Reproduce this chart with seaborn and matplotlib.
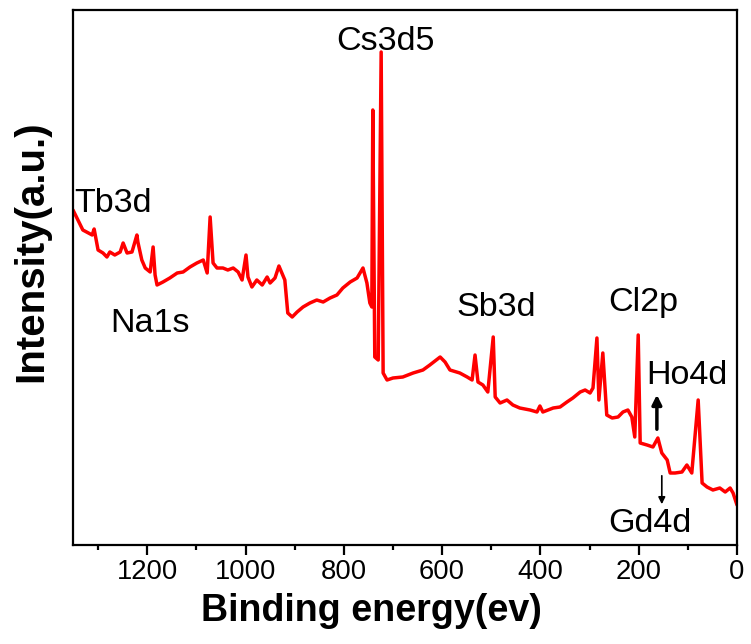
import numpy as np
import pandas as pd
import matplotlib
matplotlib.use("Agg")
import matplotlib.pyplot as plt
from matplotlib import font_manager
import seaborn as sns
from matplotlib.ticker import MultipleLocator

# Binding energy (eV) and intensity (arb. units)
energy = [1351, 1343, 1331, 1312, 1308, 1300, 1290, 1282, 1276, 1266, 1255, 1249,
          1241, 1231, 1221, 1219, 1211, 1204, 1194, 1188, 1184, 1180, 1168, 1154,
          1139, 1127, 1113, 1099, 1086, 1078, 1072, 1066, 1058, 1046, 1036, 1025,
          1015, 1007, 999, 995, 987, 977, 966, 956, 950, 940, 932, 926, 920, 914,
          905, 895, 883, 869, 855, 842, 828, 814, 802, 787, 773, 767, 761, 753,
          747, 743, 741, 737, 730, 724, 720, 712, 700, 680, 659, 639, 625, 604,
          594, 584, 564, 549, 539, 533, 527, 517, 507, 496, 492, 482, 468, 456,
          442, 421, 407, 401, 395, 374, 360, 346, 334, 319, 309, 299, 293, 285,
          281, 273, 265, 254, 242, 232, 222, 214, 208, 201, 197, 183, 171, 161,
          153, 142, 136, 126, 112, 102, 92, 79, 71, 61, 49, 35, 24, 14, 8, 0]
intensity = [335, 327, 315, 310, 316, 295, 292, 288, 293, 290, 293, 302,
             292, 293, 310, 303, 285, 277, 273, 298, 270, 260, 263, 267,
             272, 273, 278, 282, 285, 272, 328, 282, 277, 277, 275, 277,
             273, 265, 290, 268, 258, 265, 260, 268, 262, 267, 279, 272, 265, 232,
             228, 233, 238, 242, 245, 243, 247, 250, 257, 263, 267, 272, 277, 262,
             242, 238, 435, 188, 185, 493, 172, 165, 167, 168, 172, 175, 180, 188,
             183, 175, 172, 168, 165, 190, 163, 160, 153, 208, 148, 142, 145, 140,
             137, 135, 133, 139, 133, 137, 138, 143, 147, 153, 155, 152, 157, 207,
             145, 192, 130, 127, 128, 133, 135, 128, 108, 210, 102, 100, 98, 107,
             92, 85, 72, 72, 73, 80, 72, 145, 62, 58, 55, 57, 53, 57, 52, 40]

major_ticks = [0, 200, 400, 600, 800, 1000, 1200]

df = pd.DataFrame({"energy": energy, "intensity": intensity})

sns.set_style("ticks")
plt.rcParams["font.family"] = ["Liberation Sans", "DejaVu Sans"]
plt.rcParams["text.color"] = "black"
plt.rcParams["axes.labelcolor"] = "black"
plt.rcParams["xtick.color"] = "black"
plt.rcParams["ytick.color"] = "black"

names = {f.name for f in font_manager.fontManager.ttflist}
if "Liberation Sans Narrow" in names:
    narrow = ["Liberation Sans Narrow", "DejaVu Sans"]
    k = 1.0
else:
    narrow = ["Liberation Sans", "DejaVu Sans"]
    k = 0.82

fig = plt.figure(figsize=(7.51, 6.44), dpi=100)
ax = fig.add_axes([73 / 751, 1 - 545 / 644, (737 - 73) / 751, (545 - 10) / 644])

sns.lineplot(data=df, x="energy", y="intensity", ax=ax, color="#ff0000",
             linewidth=2.5, sort=False, estimator=None)

ax.set_xlim(1351, 0)
ax.set_ylim(0, 535)
ax.set_xticks(major_ticks)
ax.set_xticklabels([str(t) for t in major_ticks], family=narrow, fontsize=24 * k)
ax.xaxis.set_minor_locator(MultipleLocator(100))
ax.set_yticks([])
ax.tick_params(axis="x", which="major", direction="out", length=7, width=1.6,
               pad=3, color="black", labelcolor="black")
ax.tick_params(axis="x", which="minor", direction="out", length=3.5, width=1.6)
for s in ax.spines.values():
    s.set_visible(True)
    s.set_linewidth(1.6)
    s.set_color("black")

ax.set_xlabel("Binding energy(ev)", fontsize=33 * k, fontweight="bold",
              family=narrow)
ax.xaxis.set_label_coords(0.449, -0.089)
ax.set_ylabel("Intensity(a.u.)", fontsize=29, fontweight="bold")
ax.yaxis.set_label_coords(-0.035, 0.55)

fs = 30 * k
tk = dict(fontsize=fs, family=narrow, color="black", va="center")
ax.text(716, 503, "Cs3d5", ha="center", **tk)
ax.text(1349, 341, "Tb3d", ha="left", **tk)
ax.text(1194, 222, "Na1s", ha="center", **tk)
ax.text(490, 238, "Sb3d", ha="center", **tk)
ax.text(191, 242, "Cl2p", ha="center", **tk)
ax.text(102, 170, "Ho4d", ha="center", **tk)
ax.text(177, 22, "Gd4d", ha="center", **tk)

ax.annotate("", xy=(163, 153), xytext=(163, 113),
            arrowprops=dict(arrowstyle="-|>", color="black", lw=2.5,
                            mutation_scale=14))
ax.annotate("", xy=(153, 38), xytext=(153, 72),
            arrowprops=dict(arrowstyle="-|>", color="black", lw=1.2,
                            mutation_scale=10))

fig.savefig("out.png", dpi=100)
